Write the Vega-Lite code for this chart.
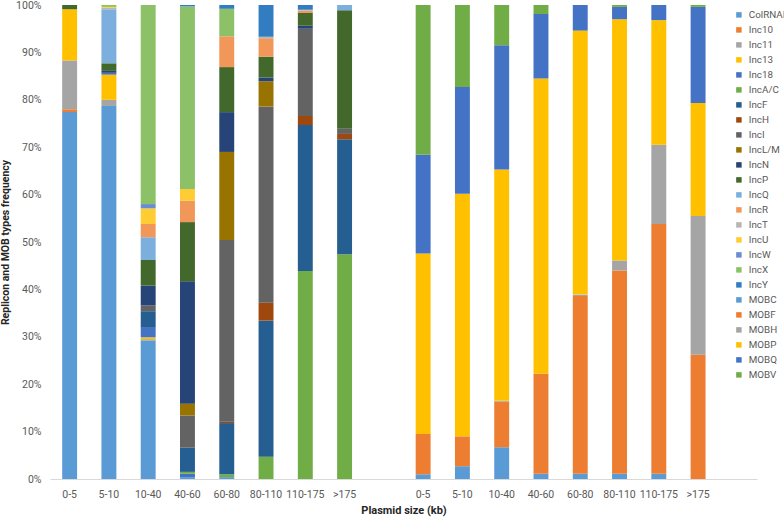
{
  "$schema": "https://vega.github.io/schema/vega-lite/v6.json",
  "width": 707,
  "height": 474,
  "autosize": {"type": "none"},
  "padding": {"left": 50, "top": 5, "right": 27, "bottom": 39},
  "background": "white",
  "config": {
    "view": {"stroke": null},
    "font": "Roboto"
  },
  "data": {
    "values": [
      {"b": "R|0-5", "t": "ColRNAI", "v": 77.4},
      {"b": "R|0-5", "t": "Inc10", "v": 0.6},
      {"b": "R|0-5", "t": "Inc11", "v": 10.3},
      {"b": "R|0-5", "t": "Inc13", "v": 10.8},
      {"b": "R|0-5", "t": "IncP", "v": 0.9},
      {"b": "R|5-10", "t": "ColRNAI", "v": 78.7},
      {"b": "R|5-10", "t": "Inc11", "v": 1.3},
      {"b": "R|5-10", "t": "Inc13", "v": 5.3},
      {"b": "R|5-10", "t": "Inc18", "v": 0.4},
      {"b": "R|5-10", "t": "IncN", "v": 0.4},
      {"b": "R|5-10", "t": "IncP", "v": 1.6},
      {"b": "R|5-10", "t": "IncQ", "v": 11.4},
      {"b": "R|5-10", "t": "IncT", "v": 0.3},
      {"b": "R|5-10", "t": "IncU", "v": 0.2},
      {"b": "R|5-10", "t": "IncX", "v": 0.4},
      {"b": "R|10-40", "t": "ColRNAI", "v": 29.2},
      {"b": "R|10-40", "t": "Inc11", "v": 0.3},
      {"b": "R|10-40", "t": "Inc13", "v": 0.4},
      {"b": "R|10-40", "t": "Inc18", "v": 2.0},
      {"b": "R|10-40", "t": "IncF", "v": 3.5},
      {"b": "R|10-40", "t": "IncI", "v": 1.2},
      {"b": "R|10-40", "t": "IncN", "v": 4.2},
      {"b": "R|10-40", "t": "IncP", "v": 5.4},
      {"b": "R|10-40", "t": "IncQ", "v": 4.8},
      {"b": "R|10-40", "t": "IncR", "v": 2.8},
      {"b": "R|10-40", "t": "IncU", "v": 3.3},
      {"b": "R|10-40", "t": "IncW", "v": 0.9},
      {"b": "R|10-40", "t": "IncX", "v": 42.0},
      {"b": "R|40-60", "t": "ColRNAI", "v": 0.4},
      {"b": "R|40-60", "t": "Inc18", "v": 0.7},
      {"b": "R|40-60", "t": "IncA/C", "v": 0.4},
      {"b": "R|40-60", "t": "IncF", "v": 5.1},
      {"b": "R|40-60", "t": "IncI", "v": 6.8},
      {"b": "R|40-60", "t": "IncL/M", "v": 2.5},
      {"b": "R|40-60", "t": "IncN", "v": 25.8},
      {"b": "R|40-60", "t": "IncP", "v": 12.5},
      {"b": "R|40-60", "t": "IncR", "v": 4.5},
      {"b": "R|40-60", "t": "IncU", "v": 2.5},
      {"b": "R|40-60", "t": "IncX", "v": 38.5},
      {"b": "R|40-60", "t": "IncY", "v": 0.3},
      {"b": "R|60-80", "t": "ColRNAI", "v": 0.4},
      {"b": "R|60-80", "t": "IncA/C", "v": 0.6},
      {"b": "R|60-80", "t": "IncF", "v": 10.8},
      {"b": "R|60-80", "t": "IncH", "v": 0.3},
      {"b": "R|60-80", "t": "IncI", "v": 38.3},
      {"b": "R|60-80", "t": "IncL/M", "v": 18.6},
      {"b": "R|60-80", "t": "IncN", "v": 8.4},
      {"b": "R|60-80", "t": "IncP", "v": 9.5},
      {"b": "R|60-80", "t": "IncR", "v": 6.5},
      {"b": "R|60-80", "t": "IncX", "v": 5.8},
      {"b": "R|60-80", "t": "IncY", "v": 0.8},
      {"b": "R|80-110", "t": "IncA/C", "v": 4.7},
      {"b": "R|80-110", "t": "IncF", "v": 28.7},
      {"b": "R|80-110", "t": "IncH", "v": 3.8},
      {"b": "R|80-110", "t": "IncI", "v": 41.4},
      {"b": "R|80-110", "t": "IncL/M", "v": 5.3},
      {"b": "R|80-110", "t": "IncN", "v": 0.8},
      {"b": "R|80-110", "t": "IncP", "v": 4.4},
      {"b": "R|80-110", "t": "IncR", "v": 3.9},
      {"b": "R|80-110", "t": "IncT", "v": 0.3},
      {"b": "R|80-110", "t": "IncY", "v": 6.7},
      {"b": "R|110-175", "t": "IncA/C", "v": 43.9},
      {"b": "R|110-175", "t": "IncF", "v": 30.8},
      {"b": "R|110-175", "t": "IncH", "v": 1.9},
      {"b": "R|110-175", "t": "IncI", "v": 18.4},
      {"b": "R|110-175", "t": "IncN", "v": 0.6},
      {"b": "R|110-175", "t": "IncP", "v": 2.7},
      {"b": "R|110-175", "t": "IncR", "v": 0.5},
      {"b": "R|110-175", "t": "IncT", "v": 0.2},
      {"b": "R|110-175", "t": "IncY", "v": 1.0},
      {"b": "R|>175", "t": "IncA/C", "v": 47.4},
      {"b": "R|>175", "t": "IncF", "v": 24.3},
      {"b": "R|>175", "t": "IncH", "v": 1.1},
      {"b": "R|>175", "t": "IncI", "v": 1.1},
      {"b": "R|>175", "t": "IncP", "v": 25.0},
      {"b": "R|>175", "t": "IncQ", "v": 1.1},
      {"b": "M|0-5", "t": "MOBC", "v": 1.0},
      {"b": "M|0-5", "t": "MOBF", "v": 8.5},
      {"b": "M|0-5", "t": "MOBP", "v": 38.1},
      {"b": "M|0-5", "t": "MOBQ", "v": 20.8},
      {"b": "M|0-5", "t": "MOBV", "v": 31.6},
      {"b": "M|5-10", "t": "MOBC", "v": 2.7},
      {"b": "M|5-10", "t": "MOBF", "v": 6.3},
      {"b": "M|5-10", "t": "MOBP", "v": 51.2},
      {"b": "M|5-10", "t": "MOBQ", "v": 22.5},
      {"b": "M|5-10", "t": "MOBV", "v": 17.3},
      {"b": "M|10-40", "t": "MOBC", "v": 6.7},
      {"b": "M|10-40", "t": "MOBF", "v": 9.6},
      {"b": "M|10-40", "t": "MOBH", "v": 0.2},
      {"b": "M|10-40", "t": "MOBP", "v": 48.8},
      {"b": "M|10-40", "t": "MOBQ", "v": 26.2},
      {"b": "M|10-40", "t": "MOBV", "v": 8.5},
      {"b": "M|40-60", "t": "MOBC", "v": 1.1},
      {"b": "M|40-60", "t": "MOBF", "v": 21.1},
      {"b": "M|40-60", "t": "MOBP", "v": 62.3},
      {"b": "M|40-60", "t": "MOBQ", "v": 13.6},
      {"b": "M|40-60", "t": "MOBV", "v": 1.9},
      {"b": "M|60-80", "t": "MOBC", "v": 1.1},
      {"b": "M|60-80", "t": "MOBF", "v": 37.5},
      {"b": "M|60-80", "t": "MOBH", "v": 0.3},
      {"b": "M|60-80", "t": "MOBP", "v": 55.7},
      {"b": "M|60-80", "t": "MOBQ", "v": 5.4},
      {"b": "M|80-110", "t": "MOBC", "v": 1.1},
      {"b": "M|80-110", "t": "MOBF", "v": 42.9},
      {"b": "M|80-110", "t": "MOBH", "v": 2.1},
      {"b": "M|80-110", "t": "MOBP", "v": 50.9},
      {"b": "M|80-110", "t": "MOBQ", "v": 2.6},
      {"b": "M|80-110", "t": "MOBV", "v": 0.4},
      {"b": "M|110-175", "t": "MOBC", "v": 1.1},
      {"b": "M|110-175", "t": "MOBF", "v": 52.7},
      {"b": "M|110-175", "t": "MOBH", "v": 16.7},
      {"b": "M|110-175", "t": "MOBP", "v": 26.3},
      {"b": "M|110-175", "t": "MOBQ", "v": 3.2},
      {"b": "M|>175", "t": "MOBF", "v": 26.2},
      {"b": "M|>175", "t": "MOBH", "v": 29.3},
      {"b": "M|>175", "t": "MOBP", "v": 23.8},
      {"b": "M|>175", "t": "MOBQ", "v": 20.3},
      {"b": "M|>175", "t": "MOBV", "v": 0.4}
    ]
  },
  "mark": {"type": "bar"},
  "encoding": {
    "x": {
      "field": "b",
      "type": "nominal",
      "scale": {
        "domain": ["R|0-5", "R|5-10", "R|10-40", "R|40-60", "R|60-80", "R|80-110", "R|110-175", "R|>175", "gap1",
                   "M|0-5", "M|5-10", "M|10-40", "M|40-60", "M|60-80", "M|80-110", "M|110-175", "M|>175", "gap2"],
        "paddingInner": 0.62,
        "paddingOuter": 0.31
      },
      "axis": {
        "title": "Plasmid size (kb)",
        "labelExpr": "indexof(datum.label, '|') >= 0 ? split(datum.label, '|')[1] : ''",
        "labelAngle": 0,
        "labelFontSize": 10.5,
        "labelColor": "#595959",
        "labelPadding": 10,
        "ticks": false,
        "tickSize": 0,
        "domainColor": "#D9D9D9",
        "titleFontSize": 11,
        "titleFontWeight": "bold",
        "titleColor": "#262626",
        "titlePadding": 5
      }
    },
    "y": {
      "field": "v",
      "type": "quantitative",
      "stack": "normalize",
      "scale": {"domain": [0, 1], "nice": false},
      "axis": {
        "title": "Replicon and MOB types frequency",
        "format": ".0%",
        "values": [0, 0.1, 0.2, 0.3, 0.4, 0.5, 0.6, 0.7, 0.8, 0.9, 1],
        "grid": false,
        "domain": false,
        "ticks": false,
        "tickSize": 0,
        "labelPadding": 9,
        "labelFontSize": 10.5,
        "labelColor": "#595959",
        "titleFontSize": 10.5,
        "titleFontWeight": "bold",
        "titleColor": "#262626",
        "titlePadding": 5
      }
    },
    "order": {"field": "t", "type": "nominal", "sort": "ascending"},
    "color": {
      "field": "t",
      "type": "nominal",
      "scale": {
        "domain": ["ColRNAI", "Inc10", "Inc11", "Inc13", "Inc18", "IncA/C", "IncF", "IncH", "IncI", "IncL/M", "IncN", "IncP", "IncQ", "IncR", "IncT", "IncU", "IncW", "IncX", "IncY", "MOBC", "MOBF", "MOBH", "MOBP", "MOBQ", "MOBV"],
        "range": ["#5B9BD5", "#ED7D31", "#A5A5A5", "#FFC000", "#4472C4", "#70AD47", "#255E91", "#9E480E", "#636363", "#997300", "#264478", "#43682B", "#7CAFDD", "#F1975A", "#B7B7B7", "#FFCD33", "#698ED0", "#8CC168", "#327DC2", "#5B9BD5", "#ED7D31", "#A5A5A5", "#FFC000", "#4472C4", "#70AD47"]
      },
      "legend": {
        "title": null,
        "orient": "none",
        "legendX": 684,
        "legendY": 5,
        "padding": 0,
        "symbolType": "square",
        "symbolSize": 30,
        "symbolStrokeWidth": 0,
        "labelFontSize": 9.8,
        "labelColor": "#595959",
        "labelOffset": 5,
        "rowPadding": 4,
        "symbolLimit": 30
      }
    }
  }
}
